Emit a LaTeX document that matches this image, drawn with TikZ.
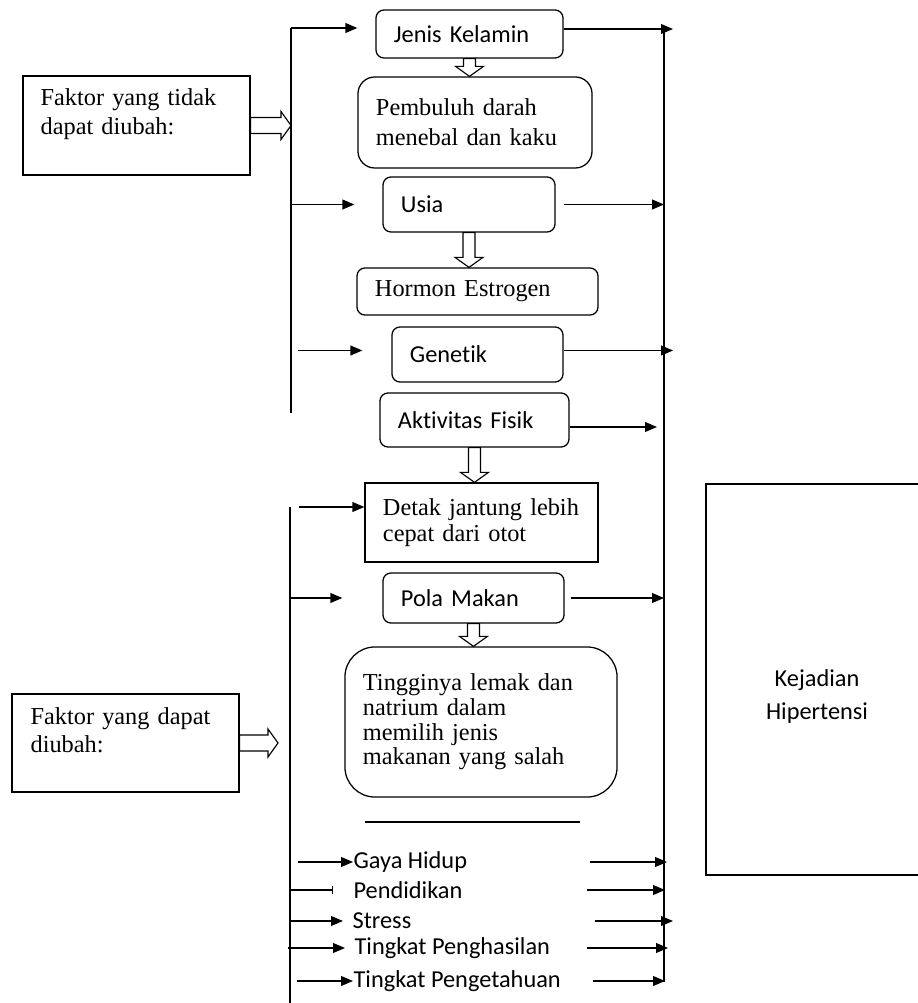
\documentclass[tikz,border=0pt]{standalone}
\usepackage{fontspec}
\setmainfont{Liberation Serif}
\setsansfont{Carlito}[RawFeature={-liga;-clig;-dlig}]
\usetikzlibrary{arrows.meta,calc}
\newcommand{\hollowdown}[2]{%
  \draw[hollow] ($(#1)+(-6,0)$) -- ($(#2)+(-6,-10)$) -- ($(#2)+(-14,-10)$) -- (#2)
    -- ($(#2)+(14,-10)$) -- ($(#2)+(6,-10)$) -- ($(#1)+(6,0)$) -- cycle;}
\newcommand{\hollowright}[2]{%
  \draw[hollow] ($(#1)+(0,-8)$) -- ($(#2)+(-10,-8)$) -- ($(#2)+(-10,-14)$) -- (#2)
    -- ($(#2)+(-10,14)$) -- ($(#2)+(-10,8)$) -- ($(#1)+(0,8)$) -- cycle;}

\begin{document}
\begin{tikzpicture}[x=0.025cm,y=-0.025cm,line width=0.9pt,
  serif/.style={font=\rmfamily\fontsize{17.3}{21}\selectfont},
  sans/.style={font=\sffamily\fontsize{17.3}{21}\selectfont},
  plainbox/.style={draw,align=left,inner xsep=0.45cm,inner ysep=0pt},
  rbox/.style={plainbox,rounded corners=0.2cm},
  arr/.style={-{Triangle[length=8.5pt,width=7pt]}},
  hollow/.style={draw,fill=white,line width=0.8pt},
  listitem/.style={sans,anchor=west,inner sep=0pt}]
\useasboundingbox (0,0) rectangle (917,1003);

\coordinate (barA) at (291,28);
\coordinate (barAend) at (291,413);
\coordinate (barB) at (290,507);
\coordinate (barBend) at (290,1010);
\coordinate (barR) at (664,29);
\coordinate (barRend) at (664,982);
\coordinate (colR) at (590,0);

% left side
\node[draw,minimum width=5.675cm,minimum height=2.475cm,inner sep=0pt] (fixA) at (136.5,125.5) {};
\node[anchor=base west,inner sep=0pt,text width=5cm,align=left,font=\rmfamily\fontsize{17.3}{20}\selectfont] (fixAtext) at (40,106) {Faktor yang tidak\\dapat diubah:};
\node[draw,minimum width=5.675cm,minimum height=2.45cm,inner sep=0pt] (fixB) at (125.5,743) {};
\node[anchor=base west,inner sep=0pt,text width=5cm,align=left,font=\rmfamily\fontsize{17.3}{20.6}\selectfont] (fixBtext) at (30,724) {Faktor yang dapat\\diubah:};

% middle column
\node[rbox,sans,text width=3.775cm,minimum height=1.2cm] (jenis) at (469.5,34) {Jenis Kelamin};
\node[rbox,rounded corners=0.42cm,font=\rmfamily\fontsize{17.3}{21.5}\selectfont,text width=4.95cm,minimum height=2.275cm] (pembuluh) at (475,122.5) {Pembuluh darah\\menebal dan kaku};
\node[rbox,sans,text width=3.4cm,minimum height=1.375cm] (usia) at (469,204.5) {Usia};
\node[rbox,serif,text width=5.125cm,minimum height=1.175cm] (hormon) at (477.5,291.5) {Hormon Estrogen};
\node[rbox,sans,text width=3.375cm,minimum height=1.375cm] (genetik) at (477.5,354.5) {Genetik};
\node[rbox,sans,text width=3.825cm,minimum height=1.35cm] (aktivitas) at (474.5,420) {Aktivitas Fisik};
\node[plainbox,font=\rmfamily\fontsize{17.3}{18}\selectfont,text width=4.925cm,minimum height=1.975cm] (detak) at (481.5,522.5) {Detak jantung lebih\\cepat dari otot};
\node[rbox,sans,text width=3.625cm,minimum height=1.25cm] (pola) at (473.5,598) {Pola Makan};
\node[rbox,rounded corners=0.75cm,font=\rmfamily\fontsize{17.3}{17.5}\selectfont,text width=5.9cm,minimum height=3.75cm] (tinggi) at (481,722) {Tingginya lemak dan\\natrium dalam\\memilih jenis\\makanan yang salah};
\draw (365,822) -- (580,822);

\node[listitem] (gaya) at (353,862) {Gaya Hidup};
\node[listitem] (pendidikan) at (353,890) {Pendidikan};
\node[listitem] (stress) at (352,921) {Stress};
\node[listitem] (penghasilan) at (354,948) {Tingkat Penghasilan};
\node[listitem] (pengetahuan) at (353,981) {Tingkat Pengetahuan};

% right side
\node[draw,minimum width=5.55cm,minimum height=9.775cm,inner sep=0pt] (kejadian) at (817,679.5) {};
\node[anchor=base,inner sep=0pt,text width=5cm,align=center,font=\sffamily\fontsize{17.3}{24}\selectfont] (kejadiantext) at (817,686) {Kejadian\\Hipertensi};

% bars
\draw (barA) -- (barAend);
\draw (barB) -- (barBend);
\draw (barR) -- (barRend);

% into the column
\draw[arr] (barA) -- ($(jenis.west |- barA)+(-18,0)$);
\draw[arr] (barA |- usia) -- ($(usia.west)+(-28,0)$);
\draw[arr] ($(barA |- genetik)+(7,-4)$) -- ($(genetik.west)+(-29,-4)$);
\draw[arr] ($(barB)+(9,0)$) -- (detak.west |- barB);
\draw[arr] (barB |- pola) -- ($(pola.west)+(-40,0)$);
\draw[arr] ($(barB |- gaya)+(8,0)$) -- (gaya.west);
\draw[-{Bar[width=6pt]}] (barB |- pendidikan) -- ($(pendidikan.west)+(-20,0)$);
\draw[arr] (barB |- stress) -- ($(stress.west)+(-9,0)$);
\draw[arr] ($(barB |- penghasilan)+(-2,0)$) -- ($(penghasilan.west)+(-9,0)$);
\draw[arr] ($(barB |- pengetahuan)+(7,0)$) -- (pengetahuan.west);

% out of the column
\draw[arr] ($(jenis.east)+(0,-5)$) -- ($(barR |- jenis)+(9,-5)$);
\draw[arr] ($(usia.east)+(8,0)$) -- (barR |- usia);
\draw[arr] ($(genetik.east)+(0,-4)$) -- ($(barR |- genetik)+(9,-4)$);
\draw[arr] ($(aktivitas.east)+(0,7)$) -- ($(barR |- aktivitas)+(-7,7)$);
\draw[arr] ($(pola.east)+(6,0)$) -- (barR |- pola);
\draw[arr] (colR |- gaya) -- ($(barR |- gaya)+(3,0)$);
\draw[arr] ($(colR |- pendidikan)+(-3,0)$) -- ($(barR |- pendidikan)+(1,0)$);
\draw[arr] ($(colR |- stress)+(5,0)$) -- ($(barR |- stress)+(9,0)$);
\draw[arr] ($(colR |- penghasilan)+(-3,0)$) -- ($(barR |- penghasilan)+(4,0)$);
\draw[arr] ($(colR |- pengetahuan)+(3,0)$) -- ($(barR |- pengetahuan)+(1,0)$);

% hollow arrows
\coordinate (tipB) at ($(barB |- fixB.east)+(-12,0)$);
\hollowright{fixA.east}{barA |- fixA.east}
\hollowright{fixB.east}{tipB}
\hollowdown{jenis.south}{jenis.south |- pembuluh.north}
\hollowdown{usia.south}{usia.south |- hormon.north}
\hollowdown{aktivitas.south}{aktivitas.south |- detak.north}
\hollowdown{pola.south}{pola.south |- tinggi.north}
\end{tikzpicture}
\end{document}
